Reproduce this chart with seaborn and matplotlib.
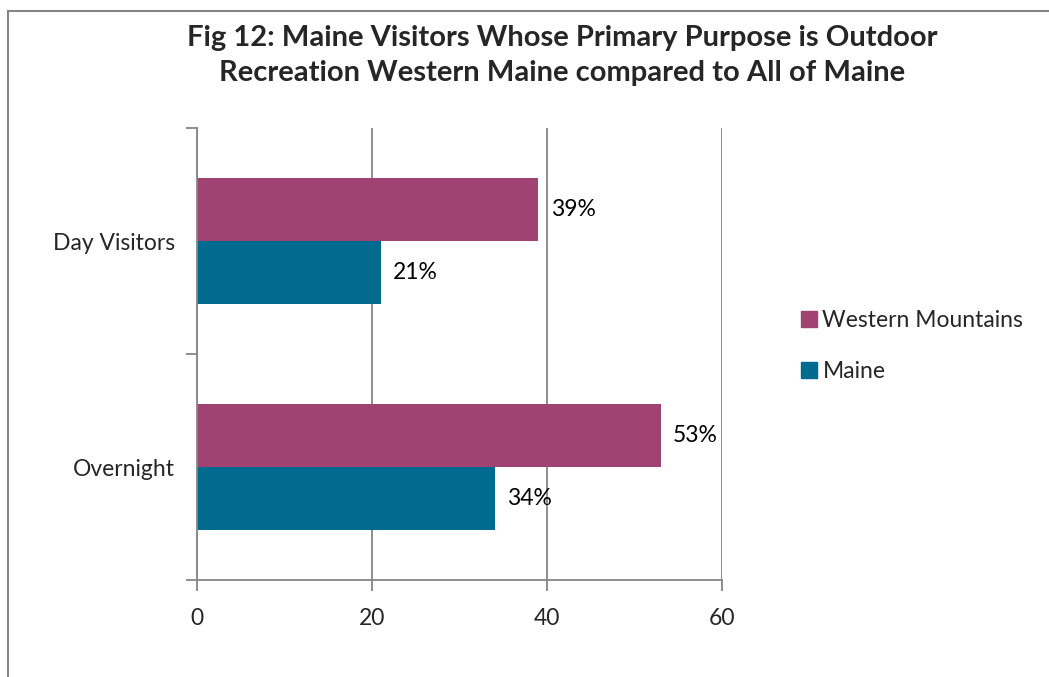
import matplotlib
matplotlib.use("Agg")
import matplotlib.pyplot as plt
import matplotlib.patches as mpatches
import matplotlib.lines as mlines
import seaborn as sns
import pandas as pd

# Share of visitors whose primary purpose is outdoor recreation (%)
categories = ["Day Visitors", "Overnight"]
series_names = ["Western Mountains", "Maine"]
western_mountains = [39, 53]
maine = [21, 34]
x_ticks = [0, 20, 40, 60]

colors = {"Western Mountains": "#A04373", "Maine": "#006A8F"}

df = pd.DataFrame({
    "category": categories * 2,
    "series": [series_names[0]] * len(categories) + [series_names[1]] * len(categories),
    "value": western_mountains + maine,
})

sns.set_theme(style="white")
plt.rcParams["font.family"] = ["Lato", "DejaVu Sans"]

fig = plt.figure(figsize=(10.49, 6.77), dpi=100)
ax = fig.add_axes([197 / 1049, 1 - 580 / 677, 525 / 1049, 452 / 677])

sns.barplot(data=df, y="category", x="value", hue="series", order=categories,
            hue_order=series_names, palette=colors, width=0.56, orient="h",
            saturation=1, ax=ax, legend=False, zorder=2, linewidth=0)

ax.set_xlim(0, 60)
ax.set_ylim(1.5, -0.5)
ax.set_xticks(x_ticks)
ax.set_xticklabels([str(t) for t in x_ticks], fontsize=16.5)
ax.xaxis.grid(True, color="#868686", linewidth=1.3)
ax.set_axisbelow(True)
ax.set_xlabel("")
ax.set_ylabel("")

# Category labels sit between the boundary ticks
ax.set_yticks([-0.5, 0.5, 1.5])
ax.set_yticklabels([])
ax.set_yticks([0, 1], minor=True)
ax.set_yticklabels(categories, minor=True, fontsize=16.5)
ax.tick_params(axis="y", which="major", length=8, width=1.3, color="#868686", direction="out", left=True)
ax.tick_params(axis="y", which="minor", length=0, pad=16)
ax.tick_params(axis="x", length=8, width=1.3, color="#868686", direction="out", bottom=True, pad=12)

for side in ["top", "right"]:
    ax.spines[side].set_visible(False)
for side in ["left", "bottom"]:
    ax.spines[side].set_color("#868686")
    ax.spines[side].set_linewidth(1.3)

# Value labels
for container in ax.containers:
    ax.bar_label(container, labels=[f"{v:.0f}%" for v in container.datavalues],
                 padding=9, fontsize=16.5, color="black")

# Legend
handles = [mpatches.Patch(color=colors[s], label=s) for s in series_names]
fig.legend(handles=handles, loc="center left", bbox_to_anchor=(780 / 1049, 1 - 346 / 677),
           frameon=False, fontsize=16.5, handlelength=0.7, handleheight=0.7,
           handletextpad=0.25, labelspacing=1.3)

fig.suptitle("Fig 12: Maine Visitors Whose Primary Purpose is Outdoor\n"
             "Recreation Western Maine compared to All of Maine",
             x=562 / 1049, y=1 - 25 / 677, va="top", fontsize=21, fontweight="bold",
             linespacing=1.45)

# Chart frame
fig.add_artist(mlines.Line2D([8 / 1049, 8 / 1049], [0, 1 - 11 / 677], transform=fig.transFigure,
                             color="#868686", linewidth=1.5))
fig.add_artist(mlines.Line2D([8 / 1049, 1.0], [1 - 11 / 677, 1 - 11 / 677], transform=fig.transFigure,
                             color="#868686", linewidth=1.5))

fig.savefig("out.png", dpi=100, facecolor="white")
